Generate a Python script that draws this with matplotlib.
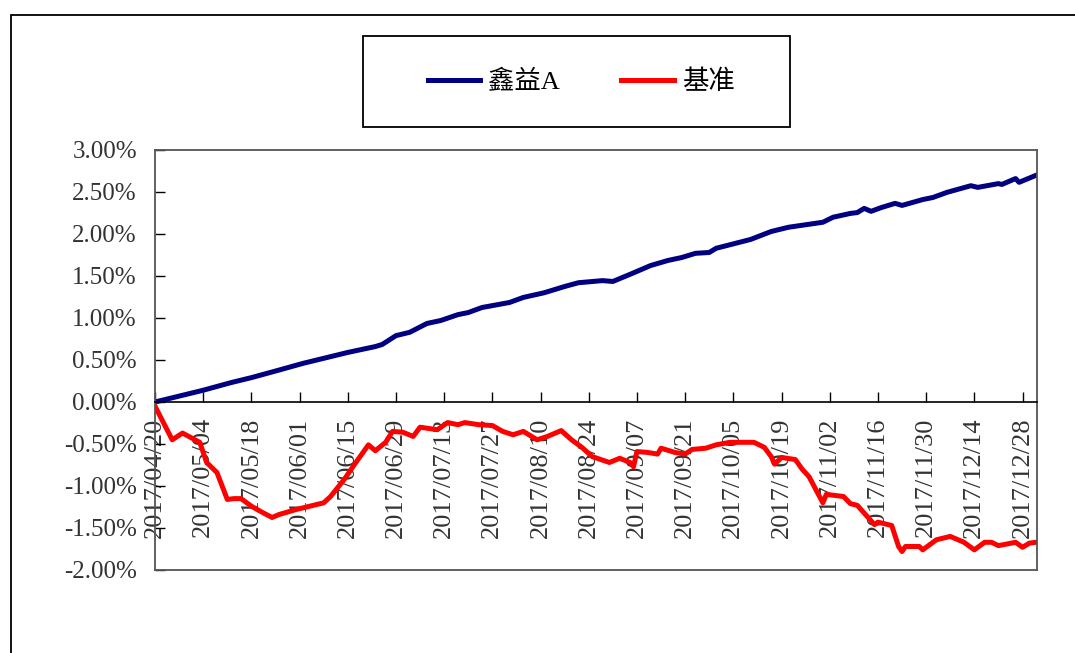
import pandas as pd
import matplotlib.pyplot as plt
import matplotlib.dates as mdates
from matplotlib.patches import Rectangle
from matplotlib.ticker import FuncFormatter

# 鑫益A 累计收益 (%)
fund_dates = ["2017-04-20", "2017-04-27", "2017-05-04", "2017-05-12", "2017-05-18", "2017-05-26",
              "2017-06-02", "2017-06-08", "2017-06-15", "2017-06-23", "2017-06-25", "2017-06-29",
              "2017-07-03", "2017-07-08", "2017-07-12", "2017-07-17", "2017-07-20", "2017-07-24",
              "2017-08-01", "2017-08-05", "2017-08-11", "2017-08-17", "2017-08-21", "2017-08-28",
              "2017-08-31", "2017-09-05", "2017-09-07", "2017-09-11", "2017-09-16", "2017-09-20",
              "2017-09-24", "2017-09-28", "2017-09-30", "2017-10-10", "2017-10-16", "2017-10-21",
              "2017-10-26", "2017-10-31", "2017-11-03", "2017-11-08", "2017-11-10", "2017-11-12",
              "2017-11-14", "2017-11-17", "2017-11-21", "2017-11-23", "2017-11-29", "2017-12-02",
              "2017-12-06", "2017-12-13", "2017-12-15", "2017-12-21", "2017-12-22", "2017-12-26",
              "2017-12-27", "2018-01-01"]
fund_vals = [0.00, 0.07, 0.14, 0.23, 0.29, 0.38,
             0.46, 0.52, 0.59, 0.66, 0.685, 0.79,
             0.83, 0.935, 0.97, 1.04, 1.065, 1.125,
             1.185, 1.245, 1.30, 1.375, 1.42, 1.445,
             1.435, 1.52, 1.555, 1.625, 1.685, 1.72,
             1.77, 1.78, 1.83, 1.935, 2.03, 2.08,
             2.11, 2.14, 2.20, 2.245, 2.255, 2.305,
             2.27, 2.315, 2.365, 2.34, 2.41, 2.435,
             2.495, 2.575, 2.555, 2.60, 2.59, 2.66,
             2.615, 2.70]

# 基准 累计收益 (%)
bench_dates = ["2017-04-20", "2017-04-25", "2017-04-28", "2017-05-03", "2017-05-05", "2017-05-08",
               "2017-05-11", "2017-05-13", "2017-05-15", "2017-05-18", "2017-05-21", "2017-05-24",
               "2017-05-26", "2017-05-31", "2017-06-04", "2017-06-08", "2017-06-10", "2017-06-14",
               "2017-06-17", "2017-06-21", "2017-06-23", "2017-06-26", "2017-06-28", "2017-07-01",
               "2017-07-04", "2017-07-06", "2017-07-11", "2017-07-14", "2017-07-17", "2017-07-19",
               "2017-07-23", "2017-07-27", "2017-07-30", "2017-08-02", "2017-08-05", "2017-08-09",
               "2017-08-12", "2017-08-16", "2017-08-19", "2017-08-22", "2017-08-25", "2017-08-30",
               "2017-09-02", "2017-09-05", "2017-09-06", "2017-09-07", "2017-09-10", "2017-09-13",
               "2017-09-14", "2017-09-18", "2017-09-21", "2017-09-23", "2017-09-27", "2017-09-30",
               "2017-10-04", "2017-10-11", "2017-10-14", "2017-10-16", "2017-10-17", "2017-10-19",
               "2017-10-23", "2017-10-25", "2017-10-27", "2017-10-31", "2017-11-01", "2017-11-06",
               "2017-11-08", "2017-11-10", "2017-11-15", "2017-11-16", "2017-11-20", "2017-11-22",
               "2017-11-23", "2017-11-24", "2017-11-28", "2017-11-29", "2017-12-03", "2017-12-07",
               "2017-12-11", "2017-12-14", "2017-12-17", "2017-12-19", "2017-12-21", "2017-12-26",
               "2017-12-28", "2017-12-30", "2018-01-01"]
bench_vals = [-0.05, -0.45, -0.37, -0.48, -0.72, -0.84,
              -1.16, -1.15, -1.15, -1.24, -1.31, -1.375,
              -1.34, -1.28, -1.24, -1.20, -1.125, -0.92,
              -0.74, -0.51, -0.58, -0.48, -0.35, -0.36,
              -0.41, -0.30, -0.33, -0.245, -0.27, -0.245,
              -0.27, -0.28, -0.35, -0.39, -0.35, -0.45,
              -0.41, -0.34, -0.45, -0.54, -0.65, -0.72,
              -0.67, -0.72, -0.77, -0.59, -0.60, -0.62,
              -0.55, -0.60, -0.62, -0.565, -0.55, -0.51,
              -0.48, -0.48, -0.54, -0.65, -0.74, -0.66,
              -0.685, -0.80, -0.89, -1.20, -1.10, -1.125,
              -1.21, -1.23, -1.46, -1.43, -1.47, -1.72,
              -1.78, -1.72, -1.72, -1.76, -1.64, -1.60,
              -1.67, -1.76, -1.67, -1.67, -1.71, -1.67,
              -1.73, -1.68, -1.67]

labels = ["鑫益A", "基准"]
colors = ["#000080", "#FF0000"]

fd = pd.to_datetime(fund_dates)
bd = pd.to_datetime(bench_dates)

fig = plt.figure(figsize=(10.75, 6.53), dpi=100)
W, H = 1075, 653
ax = fig.add_axes([155 / W, 1 - 570 / H, (1037 - 155) / W, (570 - 150) / H])

l1, = ax.plot(fd, fund_vals, color=colors[0], lw=3.6, solid_joinstyle="round", label=labels[0])
l2, = ax.plot(bd, bench_vals, color=colors[1], lw=3.6, solid_joinstyle="round", label=labels[1])

ax.set_ylim(-2, 3)
ax.set_yticks([-2, -1.5, -1, -0.5, 0, 0.5, 1, 1.5, 2, 2.5, 3])
ax.yaxis.set_major_formatter(FuncFormatter(lambda v, p: f"{v:.2f}%"))
ax.set_xlim(pd.Timestamp("2017-04-20"), pd.Timestamp("2018-01-01 05:00"))
ax.set_xticks(pd.date_range("2017-04-20", "2017-12-28", freq="14D"))
ax.xaxis.set_major_formatter(mdates.DateFormatter("%Y/%m/%d"))

# x 轴放在 0 处
ax.spines["bottom"].set_position(("data", 0))
ax.spines["bottom"].set_color("black")
ax.spines["bottom"].set_linewidth(1.2)
for s in ["left", "right", "top"]:
    ax.spines[s].set_color("#555555")
    ax.spines[s].set_linewidth(1.3)
ax.plot([0, 1], [0, 0], transform=ax.transAxes, color="#555555", lw=1.3, clip_on=False)

ax.tick_params(axis="x", direction="in", length=7, width=1, pad=11, labelsize=19,
               labelrotation=90, colors="black")
ax.tick_params(axis="y", direction="in", length=7, width=1, pad=13, labelsize=18)
for t in ax.get_xticklabels() + ax.get_yticklabels():
    t.set_fontfamily("Liberation Serif")
    t.set_color("#333333")

# 外框
fig.add_artist(Rectangle((11 / W, -0.2), 1.2, 1 - 15 / H + 0.2, transform=fig.transFigure,
                         fill=False, edgecolor="black", lw=1.3))

# 图例
fig.add_artist(Rectangle((363 / W, 1 - 127 / H), (790 - 363) / W, (127 - 36) / H,
                         transform=fig.transFigure, fill=False, edgecolor="black", lw=1.3))
fig.legend([l1, l2], labels, loc="center", bbox_to_anchor=(581 / W, 1 - 82 / H), ncol=2,
           frameon=False, handlelength=2.0, handletextpad=0.3, columnspacing=2.3,
           prop={"family": ["Liberation Serif", "Noto Sans CJK SC"], "size": 19})

fig.savefig("out.png", dpi=100)
